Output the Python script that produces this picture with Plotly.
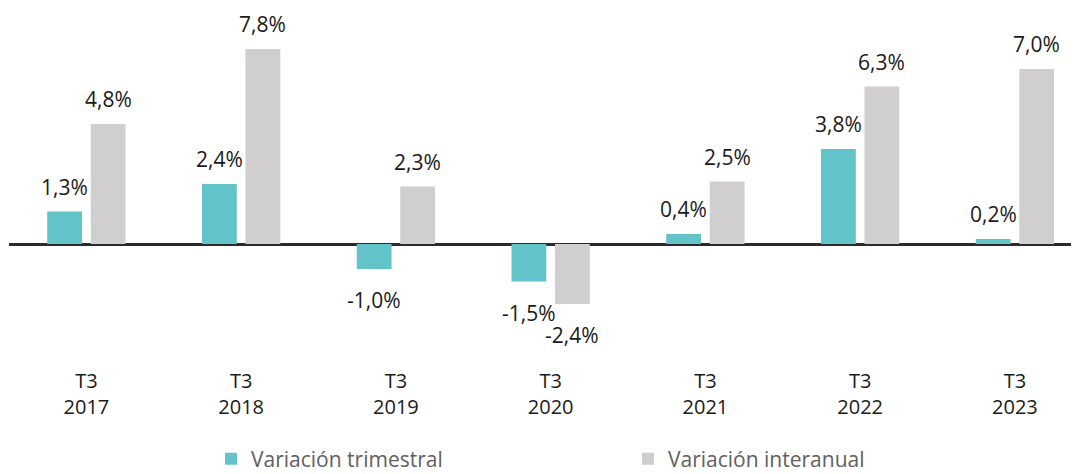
import plotly.graph_objects as go

years = ["2017", "2018", "2019", "2020", "2021", "2022", "2023"]
quarter = "T3"
categories = [f"{quarter}<br>{y}" for y in years]
trimestral = [1.3, 2.4, -1.0, -1.5, 0.4, 3.8, 0.2]
interanual = [4.8, 7.8, 2.3, -2.4, 2.5, 6.3, 7.0]
series_names = ["Variación trimestral", "Variación interanual"]
colors = ["#62C3C8", "#D0CECF"]

# page body has an 8px margin, so the figure is sized to the visible area
W, H = 1071, 466
L, R, T = 1, 0, 0
B_px = 359        # bottom of plot area (figure px)
zero_px = 236     # zero line (figure px)
px_per_unit = 25.0
ytop = (zero_px - T) / px_per_unit
ybot = -(B_px - zero_px) / px_per_unit
plot_h = B_px - T

fig = go.Figure()
for name, vals, col in zip(series_names, [trimestral, interanual], colors):
    fig.add_trace(go.Bar(x=categories, y=vals, name=name, marker_color=col,
                         marker_line_width=0))

def fmt(v):
    return f"{v:.1f}".replace(".", ",") + "%"

offsets = [-21.75, 21.75]
for vals, xs in zip([trimestral, interanual], offsets):
    for c, v in zip(categories, vals):
        fig.add_annotation(x=c, y=v, text=fmt(v), showarrow=False,
                           xshift=xs, yshift=(25 if v >= 0 else -31),
                           font=dict(family="Open Sans", size=21, color="#1a1a1a"))

fig.update_layout(
    width=W, height=H,
    margin=dict(l=L, r=R, t=T, b=H - B_px, autoexpand=False),
    paper_bgcolor="white", plot_bgcolor="white",
    barmode="group", bargap=0.438, bargroupgap=0.2,
    font=dict(family="Open Sans", size=20, color="#1a1a1a"),
    showlegend=True,
    legend=dict(orientation="h", x=(203 - L) / (W - L - R), xanchor="left",
                y=(B_px - 451) / plot_h, yanchor="middle",
                entrywidth=372, entrywidthmode="pixels",
                font=dict(family="Open Sans", size=21, color="#606060")),
    xaxis=dict(range=[-0.5, 6.414], showgrid=False, showline=False, ticks="",
               tickfont=dict(family="Open Sans", size=20, color="#1a1a1a"),
               fixedrange=True),
    yaxis=dict(range=[ybot, ytop], showgrid=False, showticklabels=False,
               zeroline=True, zerolinecolor="#2b2b2b", zerolinewidth=2.5,
               fixedrange=True),
)

fig.write_html("out.html")
